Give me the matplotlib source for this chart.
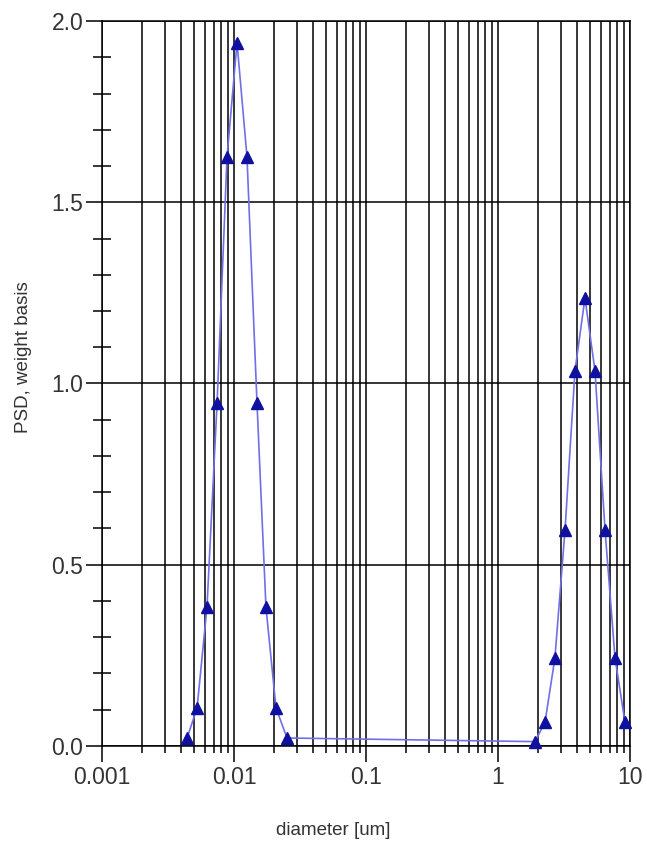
import numpy as np
import matplotlib.pyplot as plt
from matplotlib.ticker import LogLocator, MultipleLocator, FixedFormatter, FixedLocator

plt.rcParams['font.family'] = ['Liberation Sans', 'DejaVu Sans']

# data
diam = [0.00441, 0.00525, 0.00624, 0.00744, 0.00885, 0.01054, 0.01254,
        0.01493, 0.01746, 0.0208, 0.0252,
        1.905, 2.27, 2.70, 3.22, 3.83, 4.56, 5.43, 6.47, 7.70, 9.17]
psd = [0.022, 0.105, 0.383, 0.946, 1.625, 1.94, 1.625, 0.946, 0.383, 0.105, 0.022,
       0.012, 0.065, 0.243, 0.596, 1.035, 1.236, 1.035, 0.596, 0.243, 0.065]

xticks = [0.001, 0.01, 0.1, 1, 10]
xticklabels = ["0.001", "0.01", "0.1", "1", "10"]

fig = plt.figure(figsize=(6.47, 8.41), dpi=100)
ax = fig.add_axes([0.1577, 0.113, 0.816, 0.862])

ax.set_xscale('log')
ax.set_xlim(0.001, 10)
ax.set_ylim(0, 2.0)

ax.xaxis.set_major_locator(FixedLocator(xticks))
ax.xaxis.set_major_formatter(FixedFormatter(xticklabels))
ax.xaxis.set_minor_locator(LogLocator(base=10, subs=np.arange(2, 10)))
ax.xaxis.set_minor_formatter(plt.NullFormatter())
ax.yaxis.set_major_locator(MultipleLocator(0.5))
ax.yaxis.set_minor_locator(MultipleLocator(0.1))
ax.yaxis.set_major_formatter(plt.FormatStrFormatter('%.1f'))

ax.grid(True, which='both', axis='x', color='black', linewidth=1.1)
ax.grid(True, which='major', axis='y', color='black', linewidth=1.1)

# tick lengths in points
ax.tick_params(axis='x', which='major', direction='out', length=11.5, width=1.1, labelsize=16.5, pad=3)
ax.tick_params(axis='x', which='minor', direction='out', length=5, width=1.1)
ax.tick_params(axis='y', which='major', direction='out', length=11.5, width=1.1, labelsize=16.5, pad=2)
ax.tick_params(axis='y', which='minor', direction='inout', length=13.5, width=1.1)
ax.tick_params(colors='black', labelcolor='#333333')

for s in ax.spines.values():
    s.set_color('black')
    s.set_linewidth(1.1)

ax.plot(diam, psd, color='#6f6fe8', linewidth=1.2, marker='^', markersize=9,
        markerfacecolor='#1010a0', markeredgecolor='#1010a0', clip_on=False, zorder=3)

ax.set_xlabel('diameter [um]', fontsize=13.5, color='#333333')
ax.set_ylabel('PSD, weight basis', fontsize=13.5, color='#333333')
ax.xaxis.set_label_coords(0.4375, -0.105)
ax.yaxis.set_label_coords(-0.132, 0.537)

plt.savefig('out.png', dpi=100)
